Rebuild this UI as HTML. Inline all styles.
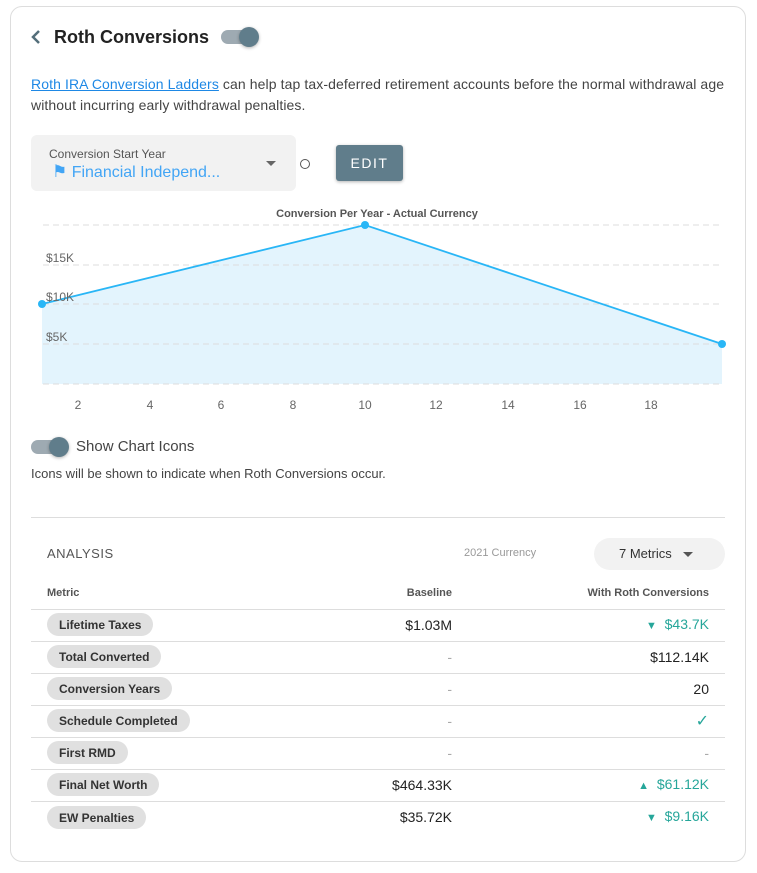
<!DOCTYPE html>
<html><head><meta charset="utf-8"><style>
*{box-sizing:border-box;margin:0;padding:0}
body{width:757px;height:873px;background:#fff;font-family:"Liberation Sans",sans-serif;position:relative;overflow:hidden;color:#222}
.a{position:absolute;white-space:nowrap}
.card{position:absolute;left:10px;top:6px;width:736px;height:856px;border:1px solid #ddd;border-radius:12px}
.pill{position:absolute;left:47px;height:23px;border-radius:12px;background:#e0e0e0;font-size:12px;font-weight:bold;color:#333;padding:0 12px;line-height:24px}
.line{position:absolute;left:31px;width:694px;height:1px;background:#ddd}
.bv{position:absolute;right:305px;font-size:14px;color:#222}
.rv{position:absolute;right:48px;font-size:14px;color:#222}
.g{color:#26a69a}
.d{color:#aaa}
.t{font-size:11px}
</style></head><body>
<div class="card"></div>
<svg class="a" style="left:30px;top:29px" width="12" height="16"><polyline points="9,2 3,8 9,14" fill="none" stroke="#546e7a" stroke-width="2.5"/></svg>
<div class="a" style="left:54px;top:27px;font-size:18px;font-weight:bold;color:#222">Roth Conversions</div>
<div class="a" style="left:221px;top:30px;width:36px;height:14px;border-radius:7px;background:#9eaab2"></div>
<div class="a" style="left:239px;top:27px;width:20px;height:20px;border-radius:50%;background:#607d8b;box-shadow:0 1px 3px rgba(0,0,0,.3)"></div>
<div class="a" style="left:31px;top:74px;font-size:14px;color:#444;line-height:21px;letter-spacing:0.1px"><span style="color:#1e88e5;text-decoration:underline">Roth IRA Conversion Ladders</span> can help tap tax-deferred retirement accounts before the normal withdrawal age<br>without incurring early withdrawal penalties.</div>
<div class="a" style="left:31px;top:135px;width:265px;height:56px;border-radius:6px;background:#f2f2f2"></div>
<div class="a" style="left:49px;top:147px;font-size:12px;color:#555">Conversion Start Year</div>
<div class="a" style="left:52px;top:162px;font-size:16px;color:#42a5f5"><span style="font-size:17px">⚑</span> Financial Independ...</div>
<div class="a" style="left:266px;top:161px;width:0;height:0;border-left:5px solid transparent;border-right:5px solid transparent;border-top:5px solid #666"></div>
<div class="a" style="left:300px;top:159px;width:10px;height:10px;border-radius:50%;border:1.5px solid #555"></div>
<div class="a" style="left:336px;top:145px;width:67px;height:36px;border-radius:3px;background:#607d8b;color:#fff;font-size:14px;letter-spacing:1.5px;text-align:center;line-height:36px;box-shadow:0 1px 3px rgba(0,0,0,.3)">EDIT</div>
<svg class="a" style="left:0;top:0" width="757" height="420">
<text x="377" y="217" text-anchor="middle" font-size="11" font-weight="bold" fill="#555" font-family="Liberation Sans">Conversion Per Year - Actual Currency</text>
<polygon points="42,304 365,225 722,344 722,384 42,384" fill="#e3f4fd"/>
<g stroke="#ddd" stroke-dasharray="6,4" stroke-width="1">
<line x1="43" x2="722" y1="225" y2="225"/><line x1="43" x2="722" y1="265" y2="265"/><line x1="43" x2="722" y1="304" y2="304"/><line x1="43" x2="722" y1="344" y2="344"/><line x1="43" x2="722" y1="384" y2="384"/></g>
<polyline points="42,304 365,225 722,344" fill="none" stroke="#29b6f6" stroke-width="1.8"/>
<circle cx="42" cy="304" r="4" fill="#29b6f6"/><circle cx="365" cy="225" r="4" fill="#29b6f6"/><circle cx="722" cy="344" r="4" fill="#29b6f6"/>
<g font-size="12" fill="#666" font-family="Liberation Sans"><text x="46" y="262">$15K</text><text x="46" y="301">$10K</text><text x="46" y="341">$5K</text>
<g text-anchor="middle"><text x="78" y="409">2</text><text x="150" y="409">4</text><text x="221" y="409">6</text><text x="293" y="409">8</text><text x="365" y="409">10</text><text x="436" y="409">12</text><text x="508" y="409">14</text><text x="580" y="409">16</text><text x="651" y="409">18</text></g></g>
</svg>
<div class="a" style="left:31px;top:440px;width:36px;height:14px;border-radius:7px;background:#9eaab2"></div>
<div class="a" style="left:49px;top:437px;width:20px;height:20px;border-radius:50%;background:#607d8b;box-shadow:0 1px 3px rgba(0,0,0,.3)"></div>
<div class="a" style="left:76px;top:438px;font-size:15px;color:#444">Show Chart Icons</div>
<div class="a" style="left:31px;top:466px;font-size:13px;color:#444">Icons will be shown to indicate when Roth Conversions occur.</div>
<div class="line" style="top:517px"></div>
<div class="a" style="left:47px;top:546px;font-size:13px;color:#555;letter-spacing:.5px">ANALYSIS</div>
<div class="a" style="left:464px;top:547px;font-size:11px;color:#999">2021 Currency</div>
<div class="a" style="left:594px;top:538px;width:131px;height:32px;border-radius:16px;background:#f2f2f2"></div>
<div class="a" style="left:619px;top:546px;font-size:13px;color:#333">7 Metrics</div>
<div class="a" style="left:683px;top:552px;border-left:5px solid transparent;border-right:5px solid transparent;border-top:5px solid #555"></div>
<div class="a" style="left:47px;top:587px;font-size:11px;font-weight:bold;color:#555">Metric</div>
<div class="a" style="right:305px;top:587px;font-size:11px;font-weight:bold;color:#555">Baseline</div>
<div class="a" style="right:48px;top:587px;font-size:11px;font-weight:bold;color:#555">With Roth Conversions</div>
<div class="line" style="top:609px"></div><div class="line" style="top:641px"></div><div class="line" style="top:673px"></div><div class="line" style="top:705px"></div><div class="line" style="top:737px"></div><div class="line" style="top:769px"></div><div class="line" style="top:801px"></div>
<div class="pill" style="top:613px">Lifetime Taxes</div>
<div class="pill" style="top:645px">Total Converted</div>
<div class="pill" style="top:677px">Conversion Years</div>
<div class="pill" style="top:709px">Schedule Completed</div>
<div class="pill" style="top:741px">First RMD</div>
<div class="pill" style="top:773px">Final Net Worth</div>
<div class="pill" style="top:806px">EW Penalties</div>
<div class="bv" style="top:617px">$1.03M</div>
<div class="bv d" style="top:649px">-</div><div class="bv d" style="top:681px">-</div><div class="bv d" style="top:713px">-</div><div class="bv d" style="top:745px">-</div>
<div class="bv" style="top:777px">$464.33K</div>
<div class="bv" style="top:809px">$35.72K</div>
<div class="rv g" style="top:616px"><span class="t">▼</span>&nbsp; $43.7K</div>
<div class="rv" style="top:649px">$112.14K</div>
<div class="rv" style="top:681px">20</div>
<div class="rv g" style="top:711px;font-size:16px">✓</div>
<div class="rv d" style="top:745px">-</div>
<div class="rv g" style="top:776px"><span class="t">▲</span>&nbsp; $61.12K</div>
<div class="rv g" style="top:808px"><span class="t">▼</span>&nbsp; $9.16K</div>
</body></html>
